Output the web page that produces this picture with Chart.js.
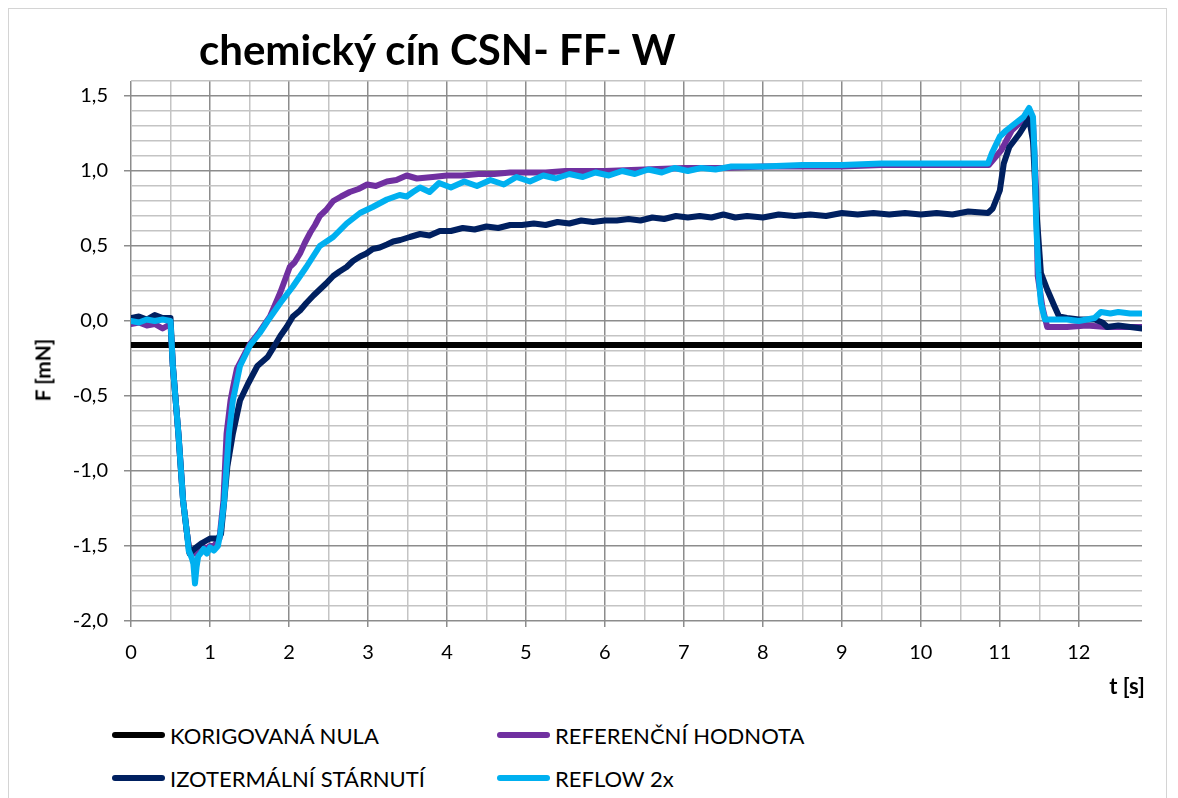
<!DOCTYPE html>
<html>
<head>
<meta charset="utf-8">
<script src="https://cdn.jsdelivr.net/npm/chart.js@4.4.1/dist/chart.umd.min.js"></script>
<style>
  html, body { margin: 0; padding: 0; background: #fff; }
  body { width: 1178px; height: 798px; overflow: hidden; position: relative; font-family: Lato, "Open Sans", sans-serif; }
  .frame { position: absolute; left: 8px; top: 8px; width: 1157px; height: 900px; border: 1px solid #d4d4d4; }
  .wrap { position: absolute; left: 0; top: 0; width: 1178px; height: 700px; }
  .title { position: absolute; left: 199px; top: 24px; font-size: 42px; font-weight: bold; color: #000; white-space: nowrap; line-height: 50px; }
  .ytitle { position: absolute; left: 42px; top: 370px; transform: translate(-50%, -50%) rotate(-90deg); font-size: 21px; font-weight: bold; white-space: nowrap; }
  .xtitle { position: absolute; right: 33px; top: 672px; font-size: 22px; font-weight: bold; white-space: nowrap; }
  .legend-item { position: absolute; height: 30px; display: flex; align-items: center; font-size: 22px; color: #000; white-space: nowrap; }
  .legend-item .swatch { display: inline-block; width: 53px; height: 6px; border-radius: 3px; margin-right: 5px; }
</style>
</head>
<body>
<div class="frame"></div>
<div class="wrap"><canvas id="forceChart"></canvas></div>
<div class="title">chemický cín CSN- FF- W</div>
<div class="ytitle">F [mN]</div>
<div class="xtitle">t [s]</div>
<div id="legend"></div>
<script>
// time [s] and force [mN]
const tZero = [0, 12.8];
const fZero = [-0.16, -0.16];

const tRef = [0, 0.1, 0.2, 0.3, 0.4, 0.5, 0.53, 0.6, 0.66, 0.71, 0.74, 0.8, 0.85, 0.9, 0.95, 1.0, 1.05, 1.12, 1.17, 1.21, 1.26, 1.3, 1.34, 1.42, 1.51, 1.63, 1.76, 1.89, 2.01, 2.07, 2.14, 2.2, 2.27, 2.33, 2.39, 2.47, 2.56, 2.66, 2.77, 2.88, 2.99, 3.1, 3.24, 3.36, 3.49, 3.62, 3.82, 4.0, 4.2, 4.4, 4.6, 4.8, 5.0, 5.25, 5.5, 5.75, 6.0, 6.5, 7.0, 7.5, 8.0, 8.5, 9.0, 9.5, 10.0, 10.5, 10.86, 10.94, 11.02, 11.15, 11.25, 11.36, 11.42, 11.46, 11.48, 11.54, 11.6, 11.85, 12.1, 12.35, 12.6, 12.8];
const fRef = [-0.02, -0.01, -0.03, -0.02, -0.05, -0.02, -0.3, -0.75, -1.2, -1.42, -1.53, -1.55, -1.53, -1.5, -1.52, -1.5, -1.5, -1.45, -1.2, -0.75, -0.53, -0.42, -0.32, -0.24, -0.15, -0.07, 0.03, 0.19, 0.36, 0.39, 0.45, 0.52, 0.59, 0.64, 0.7, 0.74, 0.8, 0.83, 0.86, 0.88, 0.91, 0.9, 0.93, 0.94, 0.97, 0.95, 0.96, 0.97, 0.97, 0.98, 0.98, 0.99, 0.99, 0.99, 1.0, 1.0, 1.0, 1.01, 1.02, 1.02, 1.03, 1.03, 1.03, 1.04, 1.04, 1.04, 1.04, 1.09, 1.14, 1.27, 1.32, 1.39, 1.32, 0.87, 0.3, 0.09, -0.04, -0.04, -0.03, -0.04, -0.04, -0.04];

const tIzo = [0, 0.1, 0.2, 0.3, 0.4, 0.5, 0.53, 0.6, 0.66, 0.71, 0.74, 0.8, 0.9, 1.0, 1.1, 1.14, 1.18, 1.22, 1.29, 1.38, 1.48, 1.6, 1.73, 1.8, 1.89, 1.97, 2.05, 2.14, 2.22, 2.31, 2.39, 2.47, 2.56, 2.64, 2.73, 2.81, 2.9, 2.98, 3.06, 3.15, 3.24, 3.32, 3.41, 3.53, 3.66, 3.78, 3.91, 4.05, 4.2, 4.35, 4.5, 4.65, 4.8, 4.95, 5.1, 5.25, 5.4, 5.55, 5.7, 5.85, 6.0, 6.15, 6.3, 6.45, 6.6, 6.75, 6.9, 7.05, 7.2, 7.35, 7.5, 7.65, 7.8, 8.0, 8.2, 8.4, 8.6, 8.8, 9.0, 9.2, 9.4, 9.6, 9.8, 10.0, 10.2, 10.4, 10.6, 10.85, 10.91, 11.0, 11.05, 11.12, 11.25, 11.37, 11.42, 11.46, 11.52, 11.6, 11.69, 11.75, 11.85, 12.0, 12.2, 12.3, 12.36, 12.5, 12.65, 12.8];
const fIzo = [0.02, 0.03, 0.01, 0.04, 0.02, 0.02, -0.3, -0.75, -1.2, -1.42, -1.55, -1.52, -1.48, -1.45, -1.45, -1.42, -1.2, -0.97, -0.75, -0.53, -0.42, -0.3, -0.24, -0.18, -0.1, -0.04, 0.03, 0.07, 0.12, 0.17, 0.21, 0.25, 0.3, 0.33, 0.36, 0.4, 0.43, 0.45, 0.48, 0.49, 0.51, 0.53, 0.54, 0.56, 0.58, 0.57, 0.6, 0.6, 0.62, 0.61, 0.63, 0.62, 0.64, 0.64, 0.65, 0.64, 0.66, 0.65, 0.67, 0.66, 0.67, 0.67, 0.68, 0.67, 0.69, 0.68, 0.7, 0.69, 0.7, 0.69, 0.71, 0.69, 0.7, 0.69, 0.71, 0.7, 0.71, 0.7, 0.72, 0.71, 0.72, 0.71, 0.72, 0.71, 0.72, 0.71, 0.73, 0.72, 0.75, 0.87, 1.05, 1.16, 1.25, 1.35, 1.2, 0.76, 0.32, 0.21, 0.1, 0.03, 0.02, 0.01, 0.01, -0.01, -0.04, -0.03, -0.04, -0.05];

const tReflow = [0, 0.1, 0.2, 0.3, 0.4, 0.5, 0.53, 0.6, 0.66, 0.71, 0.73, 0.77, 0.79, 0.81, 0.83, 0.85, 0.88, 0.92, 0.96, 1.0, 1.05, 1.1, 1.13, 1.18, 1.21, 1.24, 1.29, 1.38, 1.51, 1.63, 1.73, 1.89, 2.05, 2.22, 2.39, 2.56, 2.73, 2.9, 3.06, 3.24, 3.4, 3.49, 3.57, 3.66, 3.78, 3.9, 4.05, 4.22, 4.38, 4.55, 4.72, 4.88, 5.05, 5.22, 5.38, 5.55, 5.72, 5.88, 6.05, 6.22, 6.38, 6.55, 6.72, 6.88, 7.05, 7.22, 7.4, 7.6, 8.0, 8.5, 9.0, 9.5, 10.0, 10.5, 10.85, 10.9, 11.0, 11.08, 11.2, 11.3, 11.37, 11.42, 11.44, 11.46, 11.49, 11.52, 11.57, 11.66, 11.85, 12.0, 12.2, 12.28, 12.4, 12.5, 12.65, 12.8];
const fReflow = [0.0, -0.01, 0.01, 0.0, 0.01, 0.0, -0.3, -0.75, -1.2, -1.42, -1.53, -1.58, -1.62, -1.75, -1.64, -1.57, -1.55, -1.52, -1.55, -1.51, -1.53, -1.5, -1.42, -1.2, -0.97, -0.75, -0.53, -0.3, -0.16, -0.08, 0.0, 0.12, 0.23, 0.36, 0.5, 0.56, 0.65, 0.72, 0.76, 0.81, 0.84, 0.83, 0.86, 0.89, 0.86, 0.92, 0.89, 0.93, 0.9, 0.94, 0.91, 0.96, 0.93, 0.97, 0.95, 0.98, 0.96, 0.99, 0.97, 1.0, 0.98, 1.01, 0.99, 1.02, 1.0, 1.02, 1.01, 1.03, 1.03, 1.04, 1.04, 1.05, 1.05, 1.05, 1.05, 1.12, 1.23, 1.27, 1.32, 1.36, 1.42, 1.36, 1.1, 0.65, 0.32, 0.12, 0.01, 0.01, 0.01, 0.0, 0.02, 0.06, 0.05, 0.06, 0.05, 0.05];

const seriesLabels = ['KORIGOVANÁ NULA', 'REFERENČNÍ HODNOTA', 'IZOTERMÁLNÍ STÁRNUTÍ', 'REFLOW 2x'];
const seriesColors = ['#000000', '#7030a0', '#002060', '#00b0f0'];

const toPoints = (ts, fs) => ts.map((t, i) => ({ x: t, y: fs[i] }));

const majorGrid = '#8c8c8c';
const minorGrid = '#c4c4c4';
const isHalf = (v) => Math.abs(v * 2 - Math.round(v * 2)) < 1e-6;
const isWhole = (v) => Math.abs(v - Math.round(v)) < 1e-6;

const makeSet = (i, ts, fs, order) => ({
  label: seriesLabels[i],
  data: toPoints(ts, fs),
  borderColor: seriesColors[i],
  backgroundColor: seriesColors[i],
  borderWidth: 6,
  pointRadius: 0,
  tension: 0,
  borderCapStyle: 'round',
  borderJoinStyle: 'round',
  order: order
});

const chart = new Chart(document.getElementById('forceChart'), {
  type: 'line',
  data: {
    datasets: [
      makeSet(0, tZero, fZero, 3),
      makeSet(1, tRef, fRef, 2),
      makeSet(2, tIzo, fIzo, 1),
      makeSet(3, tReflow, fReflow, 0)
    ]
  },
  options: {
    responsive: true,
    maintainAspectRatio: false,
    animation: false,
    layout: { padding: { left: 0, right: 36, top: 81, bottom: 0 } },
    plugins: {
      legend: { display: false },
      title: { display: false },
      tooltip: { enabled: false }
    },
    scales: {
      x: {
        type: 'linear',
        min: 0,
        max: 12.8,
        border: { display: false },
        grid: {
          color: (ctx) => {
            const v = ctx.tick.value;
            if (!isHalf(v)) return 'rgba(0,0,0,0)';
            return isWhole(v) ? majorGrid : minorGrid;
          },
          lineWidth: 1.5,
          tickLength: 6,
          tickColor: (ctx) => isWhole(ctx.tick.value) ? majorGrid : 'rgba(0,0,0,0)'
        },
        ticks: {
          stepSize: 0.5,
          autoSkip: false,
          maxRotation: 0,
          padding: 14,
          color: '#000',
          font: { family: 'Lato', size: 20 },
          callback: (v) => isWhole(v) ? String(Math.round(v)) : ''
        },
        afterFit: (scale) => { scale.height = 79; scale.paddingLeft = 0; scale.paddingRight = 0; }
      },
      y: {
        min: -2,
        max: 1.6,
        border: { display: false },
        grid: {
          color: (ctx) => {
            const v = ctx.tick.value;
            return Math.round(v * 10) % 5 === 0 ? majorGrid : minorGrid;
          },
          lineWidth: 1.5,
          tickLength: 7,
          tickColor: (ctx) => Math.round(ctx.tick.value * 10) % 5 === 0 ? majorGrid : 'rgba(0,0,0,0)'
        },
        ticks: {
          stepSize: 0.1,
          autoSkip: false,
          padding: 16,
          color: '#000',
          font: { family: 'Lato', size: 20 },
          callback: (v) => {
            const r = Math.round(v * 10);
            if (r % 5 !== 0) return '';
            return (r / 10).toFixed(1).replace('-0.0', '0.0').replace('.', ',');
          }
        },
        afterFit: (scale) => { scale.width = 131; scale.paddingTop = 0; scale.paddingBottom = 0; }
      }
    }
  }
});

// Legend laid out in two columns like the original
const legendSlots = [
  { idx: 0, left: 112, top: 720 },
  { idx: 1, left: 497, top: 720 },
  { idx: 2, left: 112, top: 763 },
  { idx: 3, left: 497, top: 763 }
];
const legendEl = document.getElementById('legend');
legendSlots.forEach((slot) => {
  const ds = chart.data.datasets[slot.idx];
  const item = document.createElement('div');
  item.className = 'legend-item';
  item.style.left = slot.left + 'px';
  item.style.top = slot.top + 'px';
  const sw = document.createElement('span');
  sw.className = 'swatch';
  sw.style.background = ds.borderColor;
  item.appendChild(sw);
  item.appendChild(document.createTextNode(ds.label));
  legendEl.appendChild(item);
});
</script>
</body>
</html>
